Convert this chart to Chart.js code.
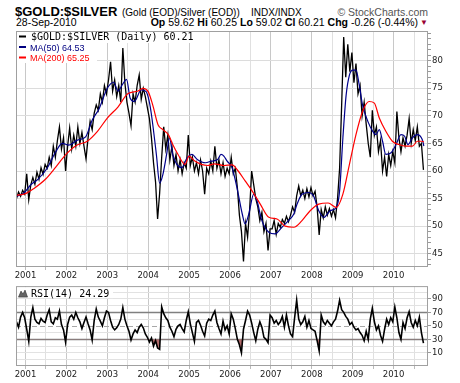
<!DOCTYPE html>
<html><head><meta charset="utf-8">
<script src="https://cdn.jsdelivr.net/npm/chart.js@4.4.0/dist/chart.umd.min.js"></script>
<style>
html,body{margin:0;padding:0;background:#fff;width:460px;height:383px;overflow:hidden;}
.t{position:absolute;white-space:nowrap;font-family:"Liberation Sans",Arial,sans-serif;color:#000;line-height:1;}
#c1{position:absolute;left:0;top:0;}
#c2{position:absolute;left:0;top:280px;}
</style></head><body>
<div class="t" style="left:15px;top:5px;font-size:13px;font-weight:bold;">$GOLD:$SILVER</div>
<div class="t" style="left:122px;top:7.5px;font-size:10px;">(Gold (EOD)/Silver (EOD))</div>
<div class="t" style="left:251px;top:7.5px;font-size:10px;">INDX/INDX</div>
<div class="t" style="right:32px;top:7px;font-size:10.5px;color:#555;">&copy; StockCharts.com</div>
<div class="t" style="left:16px;top:17px;font-size:10.5px;" id="dateTxt"></div>
<div class="t" style="right:42px;top:17px;font-size:10.5px;" id="ohlcTxt"></div>
<div class="t" style="left:420px;top:19px;font-size:8px;color:#990033;">&#9660;</div>
<canvas id="c1" width="460" height="282"></canvas>
<canvas id="c2" width="460" height="103"></canvas>
<script>
// ---------- DATA ----------
const lastDate = '28-Sep-2010';
const quote = {op: '59.62', hi: '60.25', lo: '59.02', cl: '60.21', chg: '-0.26', pct: '(-0.44%)'};
const yearLabels = [2001, 2002, 2003, 2004, 2005, 2006, 2007, 2008, 2009, 2010];
const priceTickLabels = [45, 50, 55, 60, 65, 70, 75, 80];
const rsiTickLabels = [10, 30, 50, 70, 90];
const rsiGridLevels = [0, 10, 20, 30, 40, 50, 60, 70, 80, 90, 100];

// sample dates: every 0.05 year starting 2000.78
const startYear = 2000.78;
const stepYears = 0.05;

const priceClose = [
 55.0, 56.2, 55.4, 56.5, 55.8,
 59.5, 54.8, 57.5, 58.8, 57.6, 59.8, 58.5, 60.6, 59.4, 61.2,
 60.5, 62.5, 61.0, 64.5, 62.5, 65.5, 68.0, 64.0, 66.0, 60.0,
 64.5, 67.8, 64.0, 66.5, 64.5, 68.0, 65.0, 67.0, 64.5, 62.2,
 66.0, 69.0, 67.5, 70.5, 72.0, 71.0, 74.0, 72.5, 75.5, 74.0,
 76.5, 79.8, 74.5, 76.5, 73.5, 75.5, 72.5, 82.3, 76.0, 72.5,
 70.5, 68.2, 74.0, 72.5, 75.5, 77.4, 73.0, 75.0, 73.5, 71.5,
 69.5, 66.0, 61.5, 58.0, 51.3, 56.0, 62.5, 68.0, 64.0, 66.5,
 62.0, 64.5, 61.0, 63.0, 60.0, 62.0, 59.5, 61.5, 60.5, 66.5,
 61.0, 62.5, 60.0, 61.5, 59.5, 62.0, 60.0, 55.8, 60.5, 59.5,
 61.8, 60.0, 64.5, 60.5, 62.0, 59.5, 61.5, 59.0, 60.5, 59.5,
 62.5, 59.5, 60.5, 57.0, 52.0, 49.0, 43.6, 50.5, 48.0, 53.0,
 60.0, 57.5, 55.0, 53.5, 51.0, 52.5, 49.0, 50.5, 45.6, 49.5,
 49.5, 51.0, 48.5, 50.5, 49.8, 51.2, 50.5, 51.8, 50.8, 52.0,
 53.5, 52.5, 55.5, 57.3, 55.5, 56.5, 55.0, 56.8, 55.3, 57.0,
 55.5, 56.3, 53.5, 48.4, 53.0, 51.5, 53.5, 52.0, 53.2, 51.8,
 53.0, 51.5, 55.0, 60.5, 72.0, 84.3, 77.0, 83.0, 78.0, 81.5,
 76.0, 79.5, 74.0, 75.5, 70.0, 72.5, 68.5, 65.0, 62.5, 71.0,
 66.5, 68.0, 63.5, 65.5, 60.0, 62.5, 59.0, 63.0, 61.0, 63.5,
 61.5, 70.8, 66.0, 63.5, 66.0, 64.5, 66.5, 69.5, 65.0, 67.5,
 65.5, 68.0, 64.5, 65.0, 60.21
];

const ma50Time = [2000.78, 2000.96, 2001.13, 2001.29, 2001.53, 2001.74, 2001.9, 2002.06, 2002.27, 2002.47,
 2002.63, 2002.8, 2003.0, 2003.16, 2003.26, 2003.38, 2003.47, 2003.56, 2003.66, 2003.83,
 2003.95, 2004.02, 2004.08, 2004.2, 2004.28, 2004.36, 2004.45, 2004.52, 2004.6, 2004.7,
 2004.82, 2004.95, 2005.07, 2005.2, 2005.4, 2005.55, 2005.7, 2005.78, 2005.85, 2005.93,
 2006.05, 2006.17, 2006.3, 2006.37, 2006.46, 2006.58, 2006.66, 2006.78, 2006.95, 2007.1,
 2007.27, 2007.43, 2007.56, 2007.64, 2007.76, 2007.92, 2008.04, 2008.17, 2008.3, 2008.45,
 2008.6, 2008.68, 2008.76, 2008.84, 2008.92, 2009.0, 2009.08, 2009.16, 2009.24, 2009.37,
 2009.49, 2009.57, 2009.65, 2009.73, 2009.81, 2009.94, 2010.06, 2010.18, 2010.27, 2010.35,
 2010.46, 2010.58, 2010.7, 2010.74];
const ma50 = [55.4, 56.0, 57.5, 58.4, 60.5, 63.5, 65.0, 64.7, 65.6, 66.2,
 69.2, 71.3, 75.0, 76.1, 74.5, 75.8, 76.6, 73.2, 72.6, 74.7,
 74.4, 72.8, 70.2, 63.0, 57.8, 59.4, 63.0, 66.0, 63.0, 61.2,
 60.6, 62.4, 63.0, 62.1, 61.5, 61.8, 62.1, 63.0, 62.7, 61.8,
 60.6, 57.0, 52.2, 50.4, 52.2, 55.8, 54.6, 51.0, 48.9, 48.6,
 49.8, 51.0, 52.2, 54.0, 55.8, 56.1, 55.5, 52.8, 51.6, 52.8,
 53.4, 56.4, 66.0, 73.8, 77.4, 78.3, 78.3, 75.6, 72.0, 69.0,
 67.2, 66.6, 67.5, 65.4, 63.0, 63.3, 64.8, 66.6, 66.3, 64.8,
 66.0, 66.6, 65.7, 64.53];

const ma200Time = [2000.78, 2001.0, 2001.2, 2001.5, 2001.74, 2002.0, 2002.23, 2002.51, 2002.76, 2003.0,
 2003.26, 2003.5, 2003.75, 2003.87, 2004.0, 2004.11, 2004.24, 2004.36, 2004.5, 2004.6,
 2004.73, 2004.9, 2005.0, 2005.14, 2005.3, 2005.46, 2005.62, 2005.85, 2006.05, 2006.2,
 2006.37, 2006.54, 2006.74, 2006.95, 2007.15, 2007.35, 2007.56, 2007.76, 2007.96, 2008.17,
 2008.4, 2008.6, 2008.76, 2008.92, 2009.08, 2009.24, 2009.4, 2009.53, 2009.65, 2009.81,
 2009.97, 2010.13, 2010.3, 2010.46, 2010.58, 2010.7, 2010.74];
const ma200 = [55.6, 55.9, 56.8, 58.6, 60.7, 63.1, 64.6, 65.4, 67.2, 69.6,
 71.6, 74.0, 74.5, 75.0, 74.4, 72.0, 68.4, 67.5, 66.5, 64.8,
 63.0, 61.2, 62.7, 61.8, 61.2, 61.0, 61.3, 61.0, 61.1, 60.0,
 58.2, 56.4, 54.0, 51.6, 51.3, 50.0, 49.8, 51.0, 52.8, 54.0,
 54.2, 53.4, 55.8, 61.2, 66.6, 70.8, 72.6, 72.3, 69.6, 67.2,
 65.4, 64.8, 64.5, 64.5, 65.4, 65.4, 65.25];

const rsi14 = [
 56, 48, 63, 70, 62,
 45, 27, 63, 77, 60, 55, 53, 61, 57, 55,
 66, 74, 56, 53, 62, 60, 72, 52, 44, 26,
 52, 63, 66, 60, 70, 62, 56, 46, 55, 63,
 53, 44, 29, 58, 75, 63, 57, 50, 62, 72,
 70, 58, 48, 44, 47, 52, 60, 77, 60, 50,
 42, 29, 38, 44, 40, 48, 52, 47, 38, 33,
 26, 32, 20, 28, 17, 15, 78, 68, 62, 58,
 48, 42, 34, 45, 50, 52, 46, 41, 58, 71,
 53, 40, 27, 55, 58, 51, 42, 35, 54, 60,
 58, 66, 72, 55, 46, 38, 57, 44, 50, 38,
 68, 60, 46, 30, 22, 10, 45, 58, 72, 66,
 54, 40, 28, 45, 56, 48, 33, 30, 25, 66,
 62, 54, 58, 52, 56, 64, 48, 66, 50, 38,
 34, 62, 88, 60, 52, 56, 64, 48, 58, 46,
 44, 42, 28, 13, 66, 56, 52, 58, 54, 50,
 56, 60, 72, 88, 74, 70, 64, 60, 52, 55,
 48, 44, 46, 40, 36, 28, 42, 30, 60, 76,
 56, 44, 50, 36, 27, 45, 60, 52, 62, 56,
 78, 62, 40, 30, 55, 46, 62, 71, 55, 48,
 58, 50, 63, 40, 24.29
];

// ---------- HEADER TEXT ----------
document.getElementById('dateTxt').textContent = lastDate;
document.getElementById('ohlcTxt').innerHTML =
  '<b>Op</b> ' + quote.op + ' <b>Hi</b> ' + quote.hi + ' <b>Lo</b> ' + quote.lo +
  ' <b>Cl</b> ' + quote.cl + ' <b>Chg</b> ' + quote.chg + ' ' + quote.pct;

// ---------- HELPERS ----------
const seqPoints = vals => vals.map((v, i) => ({x: +(startYear + i * stepYears).toFixed(3), y: v}));
const pairPoints = (ts, vs) => ts.map((t, i) => ({x: t, y: vs[i]}));
const xTickValues = [];
yearLabels.forEach(y => { xTickValues.push(y); xTickValues.push(y + 0.5); });
const X_MIN = 2000.768, X_MAX = 2010.841;
const axisFont = {family: '"DejaVu Sans", Verdana, sans-serif', size: 8.5};

function xScale(h) {
  return {
    type: 'linear', min: X_MIN, max: X_MAX,
    afterBuildTicks: s => { s.ticks = xTickValues.map(v => ({value: v})); },
    afterFit: s => { s.height = h; },
    ticks: {autoSkip: false, maxRotation: 0, minRotation: 0, padding: 1, color: '#222', font: axisFont,
      callback: v => Number.isInteger(v) ? String(v) : ''},
    grid: {color: c => Number.isInteger(c.tick && c.tick.value) ? '#c8c8c8' : '#e0e0e0',
      tickColor: '#bbb', tickLength: 3, lineWidth: 1},
    border: {display: false}
  };
}

const framePlugin = {
  id: 'frame',
  afterDatasetsDraw(chart) {
    const {ctx, chartArea: a} = chart;
    ctx.save();
    ctx.strokeStyle = '#a0a0a0'; ctx.lineWidth = 1;
    ctx.strokeRect(a.left + 0.5, a.top + 0.5, a.right - a.left - 1, a.bottom - a.top - 1);
    ctx.restore();
  }
};

const legendPlugin = {
  id: 'legendBox',
  beforeDatasetsDraw(chart) {
    const ctx = chart.ctx, a = chart.chartArea;
    ctx.save();
    ctx.fillStyle = '#fff';
    ctx.fillRect(a.left + 1, a.top + 1, 183, 11);
    ctx.fillRect(a.left + 1, a.top + 11, 80, 21);
    // line 1
    ctx.fillStyle = '#000';
    ctx.fillRect(19, 35.5, 7, 2);
    ctx.font = '10px "DejaVu Sans Mono", monospace';
    ctx.textBaseline = 'alphabetic';
    ctx.fillText('$GOLD:$SILVER (Daily) ' + priceClose[priceClose.length - 1].toFixed(2), 31, 39.5);
    // line 2
    ctx.font = '9px "Liberation Sans", Arial, sans-serif';
    ctx.fillStyle = '#000080';
    ctx.fillRect(19, 46, 7, 2);
    ctx.fillText('MA(50) ' + ma50[ma50.length - 1].toFixed(2), 30, 50.5);
    // line 3
    ctx.fillStyle = '#ff0000';
    ctx.fillRect(19, 56.5, 7, 2);
    ctx.fillText('MA(200) ' + ma200[ma200.length - 1].toFixed(2), 30, 61);
    ctx.restore();
  }
};

// ---------- MAIN CHART ----------
new Chart(document.getElementById('c1'), {
  type: 'line',
  data: {datasets: [
    {data: seqPoints(priceClose), borderColor: '#000', borderWidth: 1.3, pointRadius: 0, tension: 0, order: 3},
    {data: pairPoints(ma50Time, ma50), borderColor: '#00008b', borderWidth: 1.2, pointRadius: 0, cubicInterpolationMode: 'monotone', order: 2},
    {data: pairPoints(ma200Time, ma200), borderColor: '#ff0000', borderWidth: 1.2, pointRadius: 0, cubicInterpolationMode: 'monotone', order: 1}
  ]},
  options: {
    responsive: false, animation: false, devicePixelRatio: 1,
    layout: {padding: {left: 16, top: 31, right: 0, bottom: 0}},
    plugins: {legend: {display: false}, tooltip: {enabled: false}},
    scales: {
      x: xScale(15),
      y: {
        position: 'right', min: 42.59, max: 85.39,
        afterBuildTicks: s => { const t = []; for (let v = 43; v <= 85; v++) t.push({value: v}); s.ticks = t; },
        afterFit: s => { s.width = 32; },
        ticks: {padding: 1, color: '#222', font: axisFont, autoSkip: false,
          callback: v => priceTickLabels.includes(v) ? String(v) : ''},
        grid: {color: c => priceTickLabels.includes(c.tick && c.tick.value) ? '#dcdcdc' : 'rgba(0,0,0,0)',
          tickColor: '#999', tickLength: 3},
        border: {display: false}
      }
    }
  },
  plugins: [legendPlugin, framePlugin]
});

// ---------- RSI CHART ----------
const rsiRefPlugin = {
  id: 'rsiRef',
  beforeDatasetsDraw(chart) {
    const ctx = chart.ctx, a = chart.chartArea, ys = chart.scales.y;
    ctx.save();
    ctx.strokeStyle = '#808080'; ctx.lineWidth = 1.5;
    [70, 30].forEach(v => {
      const p = Math.round(ys.getPixelForValue(v)) + 0.5;
      ctx.beginPath(); ctx.moveTo(a.left, p); ctx.lineTo(a.right, p); ctx.stroke();
    });
    ctx.strokeStyle = '#a8a8a8'; ctx.lineWidth = 1; ctx.setLineDash([5, 3]);
    const p50 = Math.round(ys.getPixelForValue(50)) + 0.5;
    ctx.beginPath(); ctx.moveTo(a.left, p50); ctx.lineTo(a.right, p50); ctx.stroke();
    ctx.restore();
  },
  afterDatasetsDraw(chart) {
    const ctx = chart.ctx, a = chart.chartArea;
    ctx.save();
    ctx.fillStyle = '#fff';
    ctx.fillRect(a.left + 1, a.top + 1, 96, 11);
    ctx.fillStyle = '#666'; ctx.strokeStyle = '#333'; ctx.lineWidth = 0.6;
    ctx.beginPath();
    ctx.moveTo(18.5, a.top + 11); ctx.lineTo(21, a.top + 5); ctx.lineTo(23, a.top + 8);
    ctx.lineTo(25, a.top + 4); ctx.lineTo(27.5, a.top + 11); ctx.closePath();
    ctx.fill(); ctx.stroke();
    ctx.fillStyle = '#000';
    ctx.font = '10px "DejaVu Sans Mono", monospace';
    ctx.textBaseline = 'alphabetic';
    ctx.fillText('RSI(14) ' + rsi14[rsi14.length - 1].toFixed(2), 31, a.top + 10.5);
    ctx.restore();
  }
};

new Chart(document.getElementById('c2'), {
  type: 'line',
  data: {datasets: [
    {data: seqPoints(rsi14), borderColor: '#000', borderWidth: 1.6, pointRadius: 0, tension: 0,
     fill: {target: {value: 30}, above: 'rgba(0,0,0,0)', below: '#b06a6a'}}
  ]},
  options: {
    responsive: false, animation: false, devicePixelRatio: 1,
    layout: {padding: {left: 16, top: 3, right: 0, bottom: 0}},
    plugins: {legend: {display: false}, tooltip: {enabled: false}},
    scales: {
      x: xScale(17),
      y: {
        position: 'right', min: -9.6, max: 109,
        afterBuildTicks: s => { s.ticks = rsiGridLevels.map(v => ({value: v})); },
        afterFit: s => { s.width = 32; },
        ticks: {padding: 1, color: '#222', font: axisFont, autoSkip: false,
          callback: v => rsiTickLabels.includes(v) ? String(v) : ''},
        grid: {color: c => [30, 50, 70].includes(c.tick && c.tick.value) ? 'rgba(0,0,0,0)' : '#e2e2e2',
          tickColor: c => rsiTickLabels.includes(c.tick && c.tick.value) ? '#999' : 'rgba(0,0,0,0)', tickLength: 3},
        border: {display: false}
      }
    }
  },
  plugins: [rsiRefPlugin, framePlugin]
});
</script>
</body></html>
